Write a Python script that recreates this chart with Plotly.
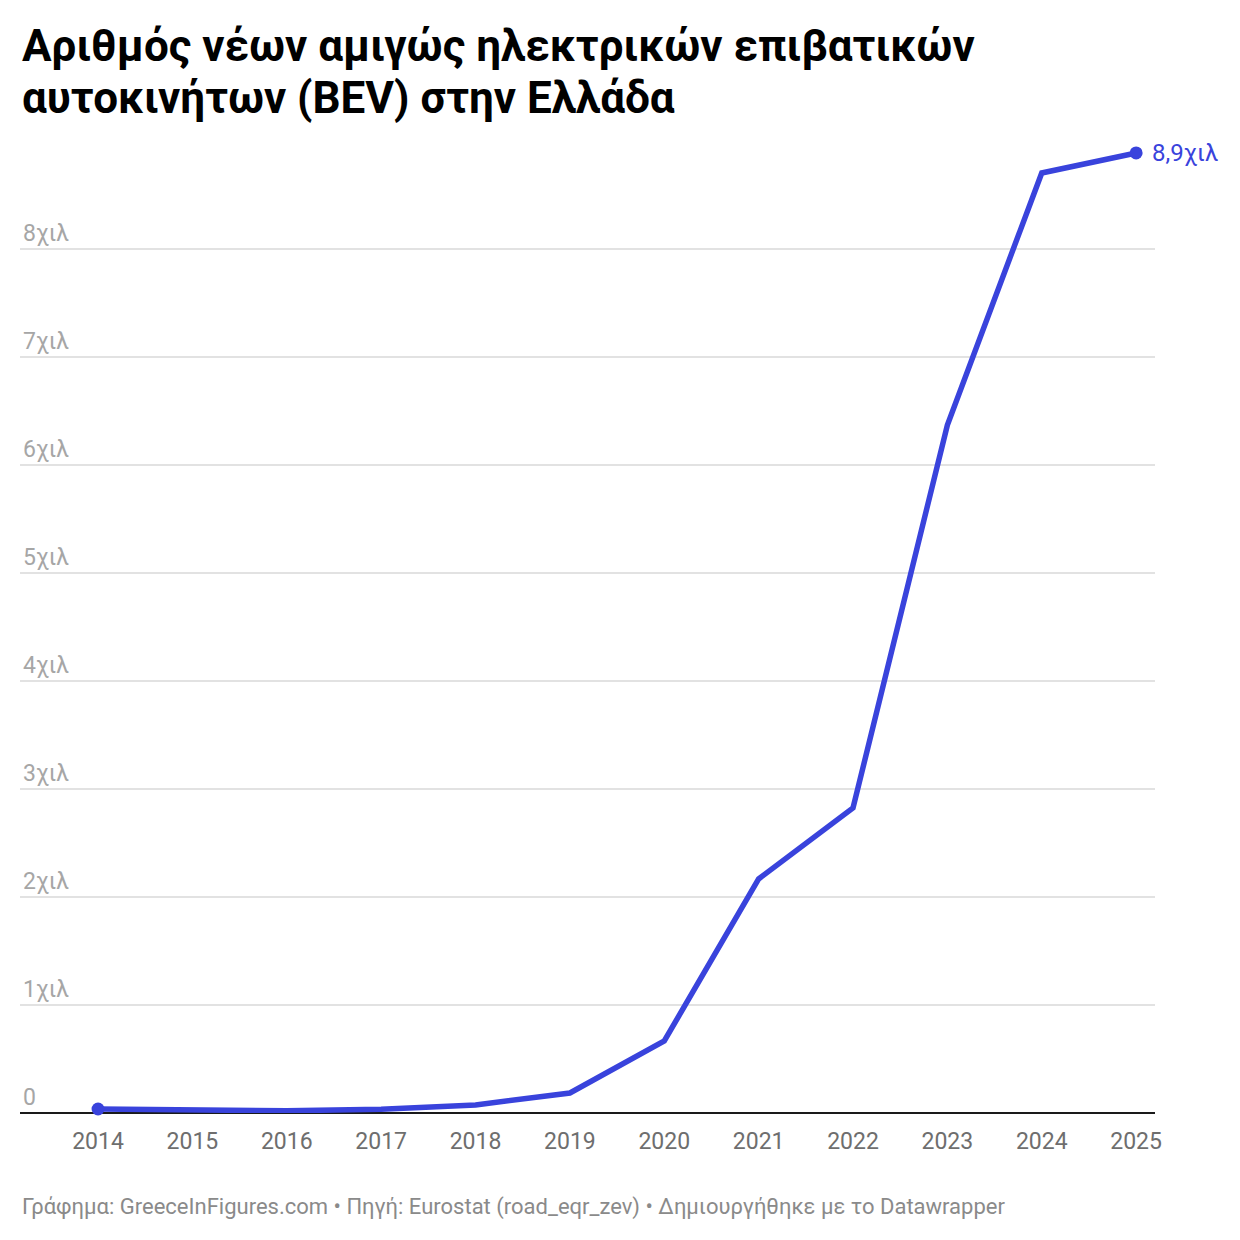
import plotly.graph_objects as go

# BEV registrations in Greece
years = [2014, 2015, 2016, 2017, 2018, 2019, 2020, 2021, 2022, 2023, 2024, 2025]
bev_cars = [37, 30, 20, 35, 75, 185, 667, 2167, 2824, 6370, 8704, 8889]

y_ticks = [0, 1000, 2000, 3000, 4000, 5000, 6000, 7000, 8000]
y_tick_labels = ["0", "1χιλ", "2χιλ", "3χιλ", "4χιλ", "5χιλ", "6χιλ", "7χιλ", "8χιλ"]
end_label = "8,9χιλ"

title_lines = [
    "Αριθμός νέων αμιγώς ηλεκτρικών επιβατικών",
    "αυτοκινήτων (BEV) στην Ελλάδα",
]
footer = "Γράφημα: GreeceInFigures.com • Πηγή: Eurostat (road_eqr_zev) • Δημιουργήθηκε με το Datawrapper"

line_color = "#3943dc"

# the page has an 8px body margin, so the figure sits 8px right/down
W, H = 1240, 1240
ml, mr, mt, mb = 12, 93, 132, 135
plot_h = H - mt - mb
axis_page_y = 1113  # where the zero line lands on the page


def paper_y(page_y):
    # page pixel row -> paper coordinate
    return (axis_page_y - page_y) / plot_h


fig = go.Figure()

fig.add_trace(go.Scatter(
    x=years,
    y=bev_cars,
    mode="lines",
    line=dict(color=line_color, width=5.5),
    hoverinfo="skip",
))

# end markers
fig.add_trace(go.Scatter(
    x=[years[0], years[-1]],
    y=[bev_cars[0], bev_cars[-1]],
    mode="markers",
    marker=dict(color=line_color, size=13),
    cliponaxis=False,
    hoverinfo="skip",
))

annotations = []
for i, line in enumerate(title_lines):
    annotations.append(dict(
        text="<b>" + line + "</b>",
        xref="paper", yref="paper",
        x=0, y=paper_y(46 + 52 * i),
        xanchor="left", yanchor="middle",
        showarrow=False,
        font=dict(family="Roboto", size=44, color="#000000"),
    ))

annotations.append(dict(
    text=end_label,
    xref="x", yref="y",
    x=years[-1], y=bev_cars[-1],
    xanchor="left", yanchor="middle",
    xshift=14,
    showarrow=False,
    font=dict(family="Roboto", size=24, color=line_color),
))

annotations.append(dict(
    text=footer,
    xref="paper", yref="paper",
    x=0, y=paper_y(1207),
    xanchor="left", yanchor="middle",
    showarrow=False,
    font=dict(family="Roboto", size=22, color="#8a8a8a"),
))

fig.update_layout(
    width=W,
    height=H,
    paper_bgcolor="white",
    plot_bgcolor="white",
    showlegend=False,
    font=dict(family="Roboto", color="#666666"),
    margin=dict(l=ml, r=mr, t=mt, b=mb),
    xaxis=dict(
        range=[2013.173, 2025.2],
        tickmode="array",
        tickvals=years,
        ticktext=[str(y) for y in years],
        showgrid=False,
        zeroline=False,
        showline=False,
        ticks="",
        ticklabelstandoff=12,
        tickfont=dict(family="Roboto", size=23, color="#6e6e6e"),
        fixedrange=True,
    ),
    yaxis=dict(
        range=[0, 9009],
        tickmode="array",
        tickvals=y_ticks,
        ticktext=y_tick_labels,
        ticklabelposition="inside top",
        tickfont=dict(family="Roboto", size=23, color="#a6a6a6"),
        showgrid=True,
        gridcolor="#e2e2e2",
        gridwidth=1.5,
        zeroline=True,
        zerolinecolor="#1a1a1a",
        zerolinewidth=2,
        showline=False,
        ticks="",
        fixedrange=True,
    ),
    annotations=annotations,
)

fig.write_html("out.html")
